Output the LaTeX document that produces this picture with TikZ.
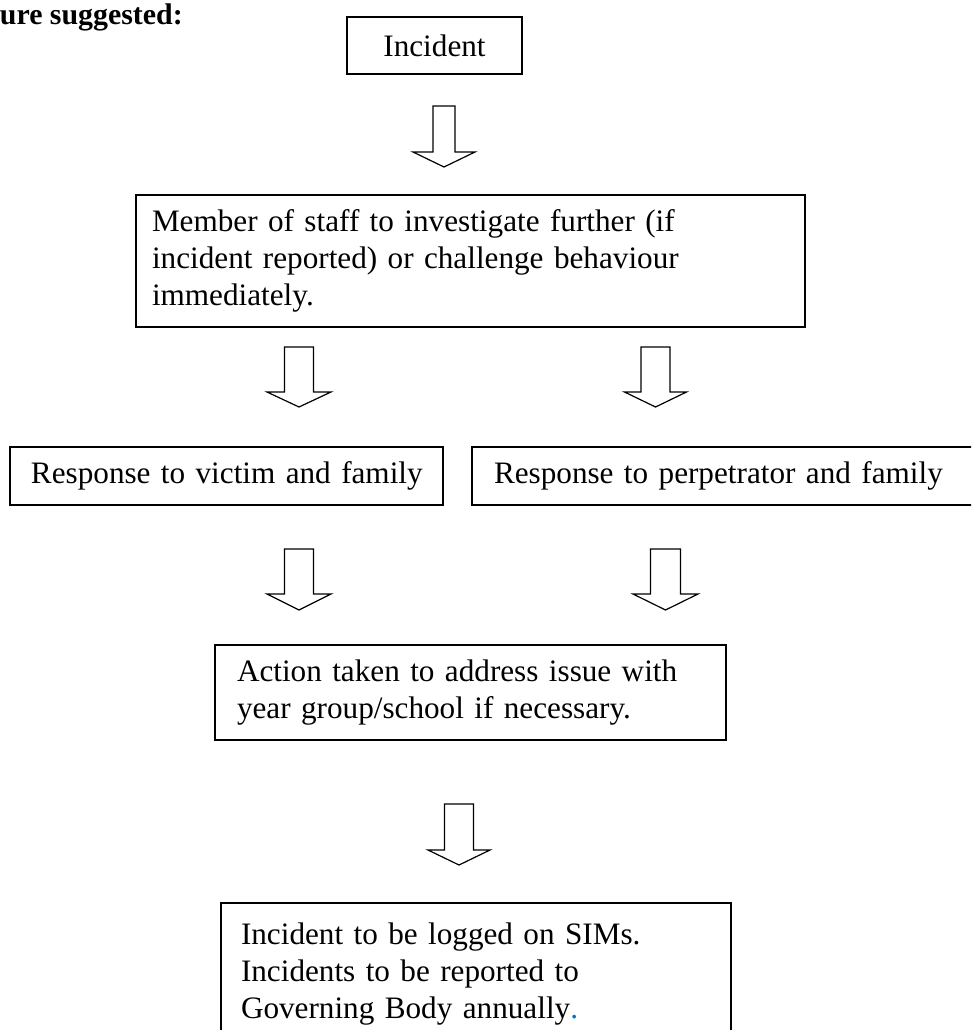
\documentclass[tikz,border=0pt]{standalone}
\usepackage{fontspec}
\setmainfont{Liberation Serif}
\definecolor{wordblue}{HTML}{0070C0}
\newcommand{\blockarrow}[6]{% cx, top, shaft half width, head half width, head base y, tip y
  \draw[arrowline] ({#1-#3},#2) -- ({#1+#3},#2) -- ({#1+#3},#5) -- ({#1+#4},#5)
    -- (#1,#6) -- ({#1-#4},#5) -- ({#1-#3},#5) -- cycle;}
\begin{document}
\begin{tikzpicture}[x=0.75pt,y=-0.75pt,
  box/.style={draw, line width=1.2pt, rectangle, inner ysep=0pt,
    font=\fontsize{23.4}{28}\selectfont},
  leftbox/.style={box, align=left},
  arrowline/.style={draw, line width=0.9pt, fill=white, line join=miter}]
\useasboundingbox (0,0) rectangle (971,1030);
\clip (0,0) rectangle (971,1030);
\fill[white] (0,0) rectangle (971,1030);

\node[anchor=base east, inner sep=0pt, font=\fontsize{22.4}{26}\selectfont\bfseries]
  (title) at (183,25) {ure suggested:};

\node[box, align=center, inner xsep=0pt, minimum width=131.25pt, minimum height=42.75pt]
  (inc) at (434.5,45.5) {Incident};

\node[leftbox, inner xsep=12pt, text width=477.75pt, minimum height=99pt]
  (staff) at (470.5,261) {Member of staff to investigate further (if\\
  incident reported) or challenge behaviour\\ immediately.};

\node[leftbox, inner xsep=15.75pt, text width=293.25pt, minimum height=43.5pt]
  (vict) at (226.5,476) {\mbox{Response to victim and family}};

\node[leftbox, inner xsep=16.5pt, text width=355.5pt, minimum height=43.5pt]
  (perp) at (731,476) {\mbox{Response to perpetrator and family}};

\node[leftbox, inner xsep=16.5pt, text width=350.25pt, minimum height=71.25pt]
  (act) at (470.5,692.5) {Action taken to address issue with\\
  year group/school if necessary.};

\node[leftbox, inner xsep=15pt, text width=352.5pt, minimum height=106.5pt]
  (log) at (476,974) {Incident to be logged on SIMs.\\
  Incidents to be reported to\\
  Governing Body annually\textcolor{wordblue}{.}};

\blockarrow{444}{106}{11}{31}{152}{167}
\blockarrow{299}{347}{14.5}{32}{392}{407}
\blockarrow{655.5}{347}{14.5}{31}{392}{407}
\blockarrow{299}{549}{14.5}{32}{594}{610}
\blockarrow{665.5}{549}{15}{32.5}{594}{610}
\blockarrow{459}{804}{14.5}{31}{850}{865}
\end{tikzpicture}
\end{document}
